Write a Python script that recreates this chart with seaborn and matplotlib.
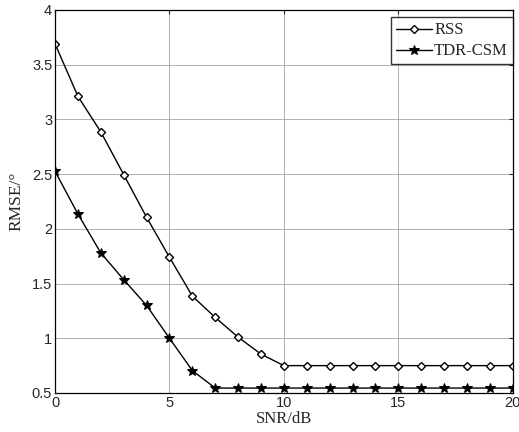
import matplotlib
matplotlib.use("Agg")
import matplotlib.pyplot as plt
import seaborn as sns
import pandas as pd

snr = list(range(0, 21))
rss = [3.69, 3.21, 2.885, 2.495, 2.105, 1.74, 1.385, 1.19, 1.01, 0.855,
       0.75, 0.75, 0.75, 0.75, 0.75, 0.75, 0.75, 0.75, 0.75, 0.75, 0.75]
tdr = [2.525, 2.135, 1.78, 1.535, 1.30, 1.00, 0.705, 0.545, 0.545, 0.545,
       0.545, 0.545, 0.545, 0.545, 0.545, 0.545, 0.545, 0.545, 0.545, 0.545, 0.545]
series_names = ["RSS", "TDR-CSM"]

sns.set_style("white")
plt.rcParams['font.family'] = ['Liberation Sans', 'DejaVu Sans']

fig = plt.figure(figsize=(5.19, 4.32), dpi=100)
ax = fig.add_axes([0.106, 0.0903, 0.882, 0.887])

df = pd.DataFrame({"SNR": snr * 2, "RMSE": rss + tdr,
                   "method": [series_names[0]] * len(snr) + [series_names[1]] * len(snr)})

sns.lineplot(data=df[df.method == "RSS"], x="SNR", y="RMSE", ax=ax, color="black",
             marker="D", markersize=4.3, markerfacecolor="white", markeredgecolor="black",
             markeredgewidth=1.0, linewidth=1.0, label="RSS")
sns.lineplot(data=df[df.method == "TDR-CSM"], x="SNR", y="RMSE", ax=ax, color="black",
             marker="*", markersize=7.5, markerfacecolor="black", markeredgecolor="black",
             linewidth=1.0, label="TDR-CSM")

ax.set_xlim(0, 20)
ax.set_ylim(0.5, 4)
ax.set_xticks([0, 5, 10, 15, 20])
ax.set_yticks([0.5, 1, 1.5, 2, 2.5, 3, 3.5, 4])
ax.set_yticklabels(["0.5", "1", "1.5", "2", "2.5", "3", "3.5", "4"])
ax.grid(True, color="#b0b0b0", linewidth=0.7, linestyle="-")
ax.tick_params(direction="in", length=3, top=True, right=True, labelsize=10.5, width=0.8, pad=2)
for s in ax.spines.values():
    s.set_color("black")
    s.set_linewidth(0.9)

ax.set_xlabel("SNR/dB", fontfamily="Liberation Serif", fontsize=12, labelpad=1)
ax.set_ylabel("RMSE/°", fontfamily="Liberation Serif", fontsize=12.5, labelpad=5)

leg = ax.legend(loc="upper right", bbox_to_anchor=(1.0, 0.98), borderaxespad=0,
                frameon=True, fancybox=False, prop={"family": "Liberation Serif", "size": 12},
                handlelength=2.2, handletextpad=0.1, borderpad=0.3, labelspacing=0.3)
leg.get_frame().set_edgecolor("black")
leg.get_frame().set_linewidth(1.0)

fig.savefig("out.png", dpi=100)
